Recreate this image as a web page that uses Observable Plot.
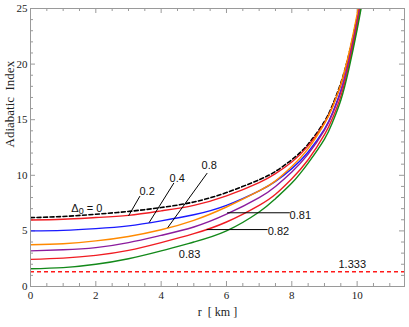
<!DOCTYPE html>
<html><head><meta charset="utf-8">
<script src="https://cdn.jsdelivr.net/npm/d3@7"></script>
<script src="https://cdn.jsdelivr.net/npm/@observablehq/plot@0.6"></script>
<style>body{margin:0;background:#fff}</style>
</head><body><div id="chart"></div>
<script>
// ---- data ----
const radii = [0, 1, 2, 3, 4, 5, 6, 7, 7.5, 8, 8.5, 9, 9.25, 9.5, 9.75, 10, 10.2];
const seriesNames = ["0", "0.2", "0.4", "0.8", "0.81", "0.82", "0.83"];
const gammaD0   = [6.19, 6.30, 6.50, 6.75, 7.10, 7.60, 8.45, 9.60, 10.35, 11.40, 12.80, 14.85, 16.35, 18.30, 20.90, 24.20, 27.30];
const gammaD02  = [5.98, 6.05, 6.20, 6.40, 6.80, 7.30, 8.15, 9.35, 10.15, 11.20, 12.65, 14.70, 16.20, 18.10, 20.70, 24.00, 27.10];
const gammaD04  = [5.00, 5.05, 5.20, 5.45, 5.90, 6.45, 7.30, 8.60, 9.45, 10.60, 12.10, 14.15, 15.65, 17.60, 20.20, 23.50, 26.60];
const gammaD08  = [3.75, 3.85, 4.10, 4.50, 5.10, 5.95, 7.15, 8.60, 9.50, 10.80, 12.40, 14.65, 16.15, 18.20, 21.00, 24.50, 27.70];
const gammaD081 = [3.20, 3.30, 3.50, 3.95, 4.60, 5.35, 6.50, 8.00, 9.00, 10.30, 11.90, 14.05, 15.55, 17.50, 20.30, 23.80, 26.90];
const gammaD082 = [2.44, 2.55, 2.80, 3.25, 3.95, 4.75, 5.80, 7.30, 8.30, 9.70, 11.40, 13.65, 15.15, 17.10, 19.90, 23.40, 26.60];
const gammaD083 = [1.60, 1.70, 2.00, 2.50, 3.20, 4.00, 5.00, 6.70, 7.90, 9.30, 11.10, 13.25, 14.80, 16.75, 19.60, 23.10, 26.30];
const gammaLimit = [1.333];

const xMajorTicks = [0, 2, 4, 6, 8, 10];
const yMajorTicks = [0, 5, 10, 15, 20, 25];

const labelTexts = ["0.2", "0.4", "0.8", "0.81", "0.82", "0.83", "1.333"];
const labelR     = [3.57, 4.49, 5.47, 8.26, 7.59, 4.87, 9.85];
const labelGamma = [8.57, 9.76, 10.90, 6.43, 4.91, 2.92, 1.96];

const pointerR1     = [3.00, 3.63, 4.20, 6.02, 5.39];
const pointerGamma1 = [6.34, 5.74, 5.29, 6.63, 5.12];
const pointerR2     = [3.35, 4.39, 5.41, 7.94, 7.26];
const pointerGamma2 = [8.13, 9.31, 10.20, 6.63, 5.12];

const zeroLabelR = 1.25, zeroLabelGamma = 7.05;

// ---- styles ----
const colorOf = {"0.2": "#f01c22", "0.4": "#1a1aff", "0.8": "#ff8a00", "0.81": "#8b1c9e", "0.82": "#f01c22", "0.83": "#13891a"};

const allSeries = [gammaD0, gammaD02, gammaD04, gammaD08, gammaD081, gammaD082, gammaD083];
const rows = [];
allSeries.forEach((vals, i) => vals.forEach((g, j) => rows.push({series: seriesNames[i], r: radii[j], g})));
const coloredRows = rows.filter(d => d.series !== "0");
const blackRows = rows.filter(d => d.series === "0");
const labels = labelTexts.map((t, i) => ({t, r: labelR[i], g: labelGamma[i]}));
const pointers = pointerR1.map((r, i) => ({r1: r, g1: pointerGamma1[i], r2: pointerR2[i], g2: pointerGamma2[i]}));

const xMinor = d3.range(0, 11.5, 0.5).filter(v => !xMajorTicks.includes(v));
const yMinor = d3.range(0, 26, 1).filter(v => !yMajorTicks.includes(v));

const W = 409, H = 327, mL = 30, mR = 5, mT = 8, mB = 41;
const iW = W - mL - mR, iH = H - mT - mB;
const frameCol = "#9a9a9a";
const serif = "Liberation Serif, Times New Roman, serif";
const sans = "Liberation Sans Narrow, Liberation Sans, Arial, sans-serif";

const chart = Plot.plot({
  width: W, height: H,
  marginLeft: mL, marginRight: mR, marginTop: mT, marginBottom: mB,
  x: {domain: [0, 11.45], axis: null},
  y: {domain: [0, 25], axis: null},
  style: {background: "#fff", overflow: "visible"},
  marks: [
    // ticks (inward, all four sides)
    Plot.ruleX(xMajorTicks, {x: d => d, stroke: frameCol, insetTop: iH - 5}),
    Plot.ruleX(xMajorTicks, {x: d => d, stroke: frameCol, insetBottom: iH - 5}),
    Plot.ruleX(xMinor, {x: d => d, stroke: frameCol, insetTop: iH - 3}),
    Plot.ruleX(xMinor, {x: d => d, stroke: frameCol, insetBottom: iH - 3}),
    Plot.ruleY(yMajorTicks, {y: d => d, stroke: frameCol, insetRight: iW - 5}),
    Plot.ruleY(yMajorTicks, {y: d => d, stroke: frameCol, insetLeft: iW - 5}),
    Plot.ruleY(yMinor, {y: d => d, stroke: frameCol, insetRight: iW - 3}),
    Plot.ruleY(yMinor, {y: d => d, stroke: frameCol, insetLeft: iW - 3}),
    // limit line
    Plot.ruleY(gammaLimit, {y: d => d, stroke: "#ff1a1a", strokeWidth: 1.5, strokeDasharray: "4,3"}),
    // curves (black reference curve underneath)
    Plot.line(blackRows, {x: "r", y: "g", stroke: "#000", strokeWidth: 1.6, strokeDasharray: "4,2.5", curve: "natural", clip: true}),
    Plot.line(coloredRows, {x: "r", y: "g", z: "series", stroke: d => colorOf[d.series], strokeWidth: 1.4, curve: "natural", clip: true}),
    // pointers and labels
    Plot.link(pointers, {x1: "r1", y1: "g1", x2: "r2", y2: "g2", stroke: "#000", strokeWidth: 1}),
    Plot.text(labels, {x: "r", y: "g", text: "t", fontFamily: sans, fontSize: 11, fill: "#111"}),
    Plot.text(["\u0394"], {x: () => zeroLabelR, y: () => zeroLabelGamma, textAnchor: "start", fontFamily: sans, fontSize: 11, fill: "#111"}),
    Plot.text(["0"], {x: () => zeroLabelR, y: () => zeroLabelGamma, dx: 7.5, dy: 3, textAnchor: "start", fontFamily: sans, fontSize: 9, fill: "#111"}),
    Plot.text(["= 0"], {x: () => zeroLabelR, y: () => zeroLabelGamma, dx: 15.5, textAnchor: "start", fontFamily: sans, fontSize: 11, fill: "#111"}),
    // frame
    Plot.frame({stroke: frameCol}),
    // tick labels
    Plot.text(xMajorTicks, {x: d => d, frameAnchor: "bottom", dy: 12, text: d => String(d), fontFamily: serif, fontSize: 11, fill: "#222"}),
    Plot.text(yMajorTicks, {y: d => d, frameAnchor: "left", dx: -3, textAnchor: "end", text: d => String(d), fontFamily: serif, fontSize: 11, fill: "#222"}),
    // axis titles
    Plot.text(["r  [ km ]"], {frameAnchor: "bottom", dy: 29, fontFamily: serif, fontSize: 12, fill: "#222"}),
    Plot.text(["Adiabatic  Index"], {frameAnchor: "left", dx: -21, rotate: -90, fontFamily: serif, fontSize: 13, fill: "#222"})
  ]
});
document.getElementById("chart").appendChild(chart);
</script>
</body></html>
